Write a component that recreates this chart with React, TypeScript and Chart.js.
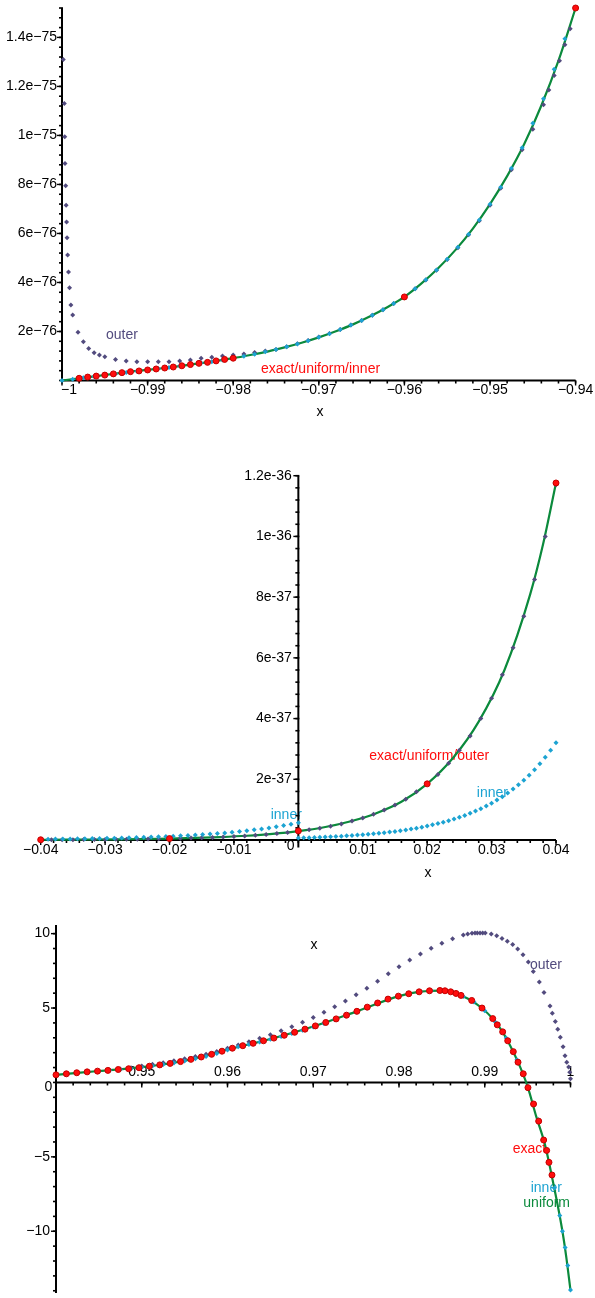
import React, { useEffect, useRef } from 'react';
import { Chart, registerables } from 'chart.js';

Chart.register(...registerables);

type Pt = [number, number];

const RED = '#ff0d0d';
const RED_EDGE = '#c40000';
const PURPLE = '#524b7e';
const CYAN = '#1ca3d2';
const GREEN = '#0b8a3c';
const FONT = '14px "Liberation Sans", Arial, Helvetica, sans-serif';

// ---------------- panel 1: left boundary layer, y in units of 1e-76 ----------------
const P1_X_TICKS = [-1, -0.99, -0.98, -0.97, -0.96, -0.95, -0.94];
const P1_X_LABELS = ['−1', '−0.99', '−0.98', '−0.97', '−0.96', '−0.95', '−0.94'];
const P1_Y_TICKS = [2, 4, 6, 8, 10, 12, 14];
const P1_Y_LABELS = ['2e−76', '4e−76', '6e−76', '8e−76', '1e−75', '1.2e−75', '1.4e−75'];

const P1_EXACT: Pt[] = [
  [-0.998, 0.09], [-0.997, 0.14], [-0.996, 0.18], [-0.995, 0.22], [-0.994, 0.27],
  [-0.993, 0.32], [-0.992, 0.36], [-0.991, 0.39], [-0.99, 0.43], [-0.989, 0.47],
  [-0.988, 0.51], [-0.987, 0.55], [-0.986, 0.6], [-0.985, 0.65], [-0.984, 0.7],
  [-0.983, 0.74], [-0.982, 0.8], [-0.981, 0.86], [-0.98, 0.91], [-0.96, 3.41], [-0.94, 15.2],
];

const P1_UNIFORM: Pt[] = [
  [-1, 0], [-0.998, 0.09], [-0.996, 0.18], [-0.994, 0.27], [-0.992, 0.36], [-0.99, 0.43],
  [-0.988, 0.51], [-0.986, 0.6], [-0.984, 0.7], [-0.982, 0.8], [-0.98, 0.91], [-0.978, 1.04],
  [-0.976, 1.18], [-0.974, 1.35], [-0.972, 1.54], [-0.97, 1.76], [-0.968, 2.01], [-0.966, 2.29],
  [-0.964, 2.62], [-0.962, 2.99], [-0.96, 3.41], [-0.958, 3.96], [-0.956, 4.6], [-0.954, 5.34],
  [-0.952, 6.2], [-0.95, 7.2], [-0.948, 8.34], [-0.946, 9.65], [-0.944, 11.22], [-0.942, 13.05],
  [-0.94, 15.2],
];

const P1_INNER: Pt[] = [
  [-1, 0], [-0.99875, 0.05], [-0.9975, 0.11], [-0.99625, 0.165], [-0.995, 0.22], [-0.99375, 0.28],
  [-0.9925, 0.33], [-0.99125, 0.38], [-0.99, 0.43], [-0.98875, 0.48], [-0.9875, 0.53],
  [-0.98625, 0.59], [-0.985, 0.65], [-0.98375, 0.71], [-0.9825, 0.77], [-0.98125, 0.84],
  [-0.98, 0.91], [-0.97875, 0.99], [-0.9775, 1.07], [-0.97625, 1.17], [-0.975, 1.27],
  [-0.97375, 1.375], [-0.9725, 1.49], [-0.97125, 1.62], [-0.97, 1.76], [-0.96875, 1.91],
  [-0.9675, 2.08], [-0.96625, 2.26], [-0.965, 2.45], [-0.96375, 2.66], [-0.9625, 2.89],
  [-0.96125, 3.14], [-0.96, 3.41], [-0.95875, 3.74], [-0.9575, 4.11], [-0.95625, 4.51],
  [-0.955, 4.95], [-0.95375, 5.44], [-0.9525, 5.97], [-0.95125, 6.55], [-0.95, 7.19],
  [-0.94875, 7.89], [-0.9475, 8.66], [-0.94625, 9.5], [-0.945, 10.5], [-0.94375, 11.5],
  [-0.9425, 12.7], [-0.94125, 13.95], [-0.94, 15.2],
];

const P1_OUTER: Pt[] = [
  [-0.99985, 13.1], [-0.99973, 11.3], [-0.99968, 9.95], [-0.99965, 8.85], [-0.99957, 7.95],
  [-0.99952, 7.15], [-0.99947, 6.47], [-0.99941, 5.82], [-0.99934, 5.12], [-0.99924, 4.43],
  [-0.99912, 3.78], [-0.99896, 3.08], [-0.99875, 2.67], [-0.99813, 1.97], [-0.9975, 1.58],
  [-0.99688, 1.31], [-0.99625, 1.13], [-0.99563, 1.04], [-0.995, 0.97], [-0.99375, 0.86],
  [-0.9925, 0.8], [-0.99125, 0.77], [-0.99, 0.77], [-0.98875, 0.77], [-0.9875, 0.77],
  [-0.98625, 0.8], [-0.985, 0.84], [-0.98375, 0.91], [-0.9825, 0.95], [-0.98125, 1.0],
  [-0.98, 1.04], [-0.97875, 1.08], [-0.9775, 1.14], [-0.97625, 1.2], [-0.975, 1.27],
  [-0.97375, 1.38], [-0.9725, 1.5], [-0.97125, 1.63], [-0.97, 1.77], [-0.96875, 1.92],
  [-0.9675, 2.08], [-0.96625, 2.26], [-0.965, 2.45], [-0.96375, 2.66], [-0.9625, 2.89],
  [-0.96125, 3.14], [-0.96, 3.41], [-0.95875, 3.74], [-0.9575, 4.1], [-0.95625, 4.5],
  [-0.955, 4.94], [-0.95375, 5.42], [-0.9525, 5.95], [-0.95125, 6.52], [-0.95, 7.15],
  [-0.94875, 7.84], [-0.9475, 8.6], [-0.94625, 9.42], [-0.945, 10.25], [-0.94375, 11.25],
  [-0.94313, 11.85], [-0.9425, 12.45], [-0.94188, 13.05], [-0.94125, 13.7], [-0.94063, 14.35],
];

// ---------------- panel 2: interior layer, y in units of 1e-37 ----------------
const P2_X_TICKS = [-0.04, -0.03, -0.02, -0.01, 0.01, 0.02, 0.03, 0.04];
const P2_X_LABELS = ['−0.04', '−0.03', '−0.02', '−0.01', '0.01', '0.02', '0.03', '0.04'];
const P2_Y_TICKS = [2, 4, 6, 8, 10, 12];
const P2_Y_LABELS = ['2e-37', '4e-37', '6e-37', '8e-37', '1e-36', '1.2e-36'];

const P2_EXACT: Pt[] = [[-0.04, 0.008], [-0.02, 0.047], [0, 0.3], [0.02, 1.85], [0.04, 11.76]];

const P2_UNIFORM: Pt[] = [
  [-0.04, 0.008], [-0.036, 0.011], [-0.032, 0.016], [-0.028, 0.023], [-0.024, 0.033],
  [-0.02, 0.047], [-0.016, 0.068], [-0.012, 0.098], [-0.008, 0.14], [-0.004, 0.202],
  [0, 0.292], [0.004, 0.42], [0.008, 0.61], [0.012, 0.875], [0.016, 1.26], [0.02, 1.85],
  [0.024, 2.7], [0.028, 3.9], [0.032, 5.6], [0.036, 8.1], [0.038, 9.75], [0.04, 11.76],
];

const P2_OUTER: Pt[] = [
  [-0.04, 0.008], [-0.03833, 0.009], [-0.03667, 0.01], [-0.035, 0.012], [-0.03333, 0.014],
  [-0.03167, 0.016], [-0.03, 0.019], [-0.02833, 0.022], [-0.02667, 0.025], [-0.025, 0.029],
  [-0.02333, 0.034], [-0.02167, 0.04], [-0.02, 0.047], [-0.01833, 0.054], [-0.01667, 0.063],
  [-0.015, 0.074], [-0.01333, 0.086], [-0.01167, 0.1], [-0.01, 0.117], [-0.00833, 0.136],
  [-0.00667, 0.158], [-0.005, 0.184], [-0.00333, 0.214], [-0.00167, 0.25], [0, 0.29],
  [0.00167, 0.335], [0.00333, 0.39], [0.005, 0.452], [0.00667, 0.527], [0.00833, 0.626],
  [0.01, 0.725], [0.01167, 0.847], [0.01333, 0.99], [0.015, 1.15], [0.01667, 1.34],
  [0.01833, 1.59], [0.02, 1.86], [0.02167, 2.16], [0.02333, 2.53], [0.025, 2.96],
  [0.02667, 3.43], [0.02833, 4.0], [0.03, 4.67], [0.03167, 5.44], [0.03333, 6.33],
  [0.035, 7.37], [0.03667, 8.58], [0.03833, 10.0], [0.04, 11.7],
];

const P2_INNER_LEFT: Pt[] = [
  [-0.04, 0.025], [-0.03886, 0.028], [-0.03771, 0.03], [-0.03657, 0.033], [-0.03543, 0.036],
  [-0.03429, 0.039], [-0.03314, 0.043], [-0.032, 0.047], [-0.03086, 0.051], [-0.02971, 0.056],
  [-0.02857, 0.061], [-0.02743, 0.067], [-0.02629, 0.073], [-0.02514, 0.08], [-0.024, 0.088],
  [-0.02286, 0.096], [-0.02171, 0.105], [-0.02057, 0.115], [-0.01943, 0.125], [-0.01829, 0.137],
  [-0.01714, 0.15], [-0.016, 0.164], [-0.01486, 0.179], [-0.01371, 0.196], [-0.01257, 0.214],
  [-0.01143, 0.234], [-0.01029, 0.255], [-0.00914, 0.279], [-0.008, 0.305], [-0.00686, 0.334],
  [-0.00571, 0.365], [-0.00457, 0.399], [-0.00343, 0.436], [-0.00229, 0.477], [-0.00114, 0.521],
  [0, 0.57],
];

const P2_INNER_RIGHT: Pt[] = [
  [0, 0.066], [0.00083, 0.072], [0.00167, 0.078], [0.0025, 0.084], [0.00333, 0.091],
  [0.00417, 0.099], [0.005, 0.107], [0.00583, 0.116], [0.00667, 0.126], [0.0075, 0.137],
  [0.00833, 0.148], [0.00917, 0.161], [0.01, 0.174], [0.01083, 0.189], [0.01167, 0.205],
  [0.0125, 0.222], [0.01333, 0.241], [0.01417, 0.261], [0.015, 0.283], [0.01583, 0.307],
  [0.01667, 0.333], [0.0175, 0.361], [0.01833, 0.391], [0.01917, 0.424], [0.02, 0.46],
  [0.02083, 0.499], [0.02167, 0.541], [0.0225, 0.586], [0.02333, 0.636], [0.02417, 0.689],
  [0.025, 0.747], [0.02583, 0.81], [0.02667, 0.878], [0.0275, 0.952], [0.02833, 1.032],
  [0.02917, 1.119], [0.03, 1.213], [0.03083, 1.316], [0.03167, 1.426], [0.0325, 1.547],
  [0.03333, 1.677], [0.03417, 1.818], [0.035, 1.971], [0.03583, 2.137], [0.03667, 2.317],
  [0.0375, 2.512], [0.03833, 2.723], [0.03917, 2.953], [0.04, 3.201],
];

// ---------------- panel 3: right boundary layer ----------------
const P3_X_TICKS = [0.95, 0.96, 0.97, 0.98, 0.99, 1];
const P3_X_LABELS = ['0.95', '0.96', '0.97', '0.98', '0.99', '1'];
const P3_Y_TICKS = [-10, -5, 5, 10];
const P3_Y_LABELS = ['−10', '−5', '5', '10'];

const P3_EXACT: Pt[] = [
  [0.94, 0.51], [0.94121, 0.58], [0.94242, 0.65], [0.94363, 0.71], [0.94484, 0.76],
  [0.94605, 0.81], [0.94726, 0.87], [0.94847, 0.92], [0.94968, 0.99], [0.95089, 1.09],
  [0.9521, 1.18], [0.95331, 1.28], [0.95452, 1.4], [0.95573, 1.55], [0.95694, 1.71],
  [0.95815, 1.89], [0.95936, 2.1], [0.96057, 2.3], [0.96178, 2.47], [0.96299, 2.63],
  [0.9642, 2.8], [0.96541, 2.98], [0.96662, 3.17], [0.96783, 3.37], [0.96904, 3.58],
  [0.97025, 3.8], [0.97146, 4.03], [0.97267, 4.27], [0.97388, 4.52], [0.97509, 4.78],
  [0.9763, 5.06], [0.97751, 5.34], [0.97872, 5.6], [0.97993, 5.8], [0.98114, 5.96],
  [0.98235, 6.09], [0.98356, 6.16], [0.98477, 6.18], [0.98536, 6.16], [0.98603, 6.09],
  [0.98665, 5.98], [0.98723, 5.85], [0.98848, 5.51], [0.98968, 5.0], [0.99093, 4.29],
  [0.99146, 3.87], [0.99209, 3.4], [0.99268, 2.8], [0.99333, 2.07], [0.99388, 1.36],
  [0.99449, 0.58], [0.99504, -0.35], [0.99569, -1.45], [0.99629, -2.6], [0.99687, -3.87],
  [0.99722, -4.57], [0.99749, -5.37], [0.99784, -6.22],
];

const P3_UNIFORM: Pt[] = [
  [0.94, 0.51], [0.945, 0.77], [0.95, 1.03], [0.955, 1.46], [0.96, 2.21], [0.965, 2.92],
  [0.97, 3.76], [0.975, 4.76], [0.98, 5.8], [0.9825, 6.1], [0.985, 6.175], [0.9865, 6.01],
  [0.988, 5.64], [0.9895, 5.07], [0.991, 4.25], [0.992, 3.47], [0.993, 2.44], [0.994, 1.21],
  [0.995, -0.28], [0.996, -2.28], [0.997, -4.13], [0.998, -6.8], [0.999, -9.8],
  [0.9995, -11.7], [1, -13.97],
];

const P3_INNER: Pt[] = [
  [0.94, 0.5], [0.94125, 0.58], [0.9425, 0.65], [0.94375, 0.71], [0.945, 0.76], [0.94625, 0.81],
  [0.9475, 0.87], [0.94875, 0.92], [0.95, 1.0], [0.95125, 1.11], [0.9525, 1.2], [0.95375, 1.3],
  [0.955, 1.44], [0.95625, 1.59], [0.9575, 1.75], [0.95875, 1.94], [0.96, 2.18], [0.96125, 2.4],
  [0.9625, 2.55], [0.96375, 2.72], [0.965, 2.9], [0.96625, 3.08], [0.9675, 3.29], [0.96875, 3.5],
  [0.97, 3.73], [0.97125, 3.96], [0.9725, 4.21], [0.97375, 4.46], [0.975, 4.72], [0.97625, 5.01],
  [0.9775, 5.3], [0.97875, 5.6], [0.98, 5.8], [0.98125, 5.96], [0.9825, 6.09], [0.98375, 6.16],
  [0.985, 6.18], [0.98625, 6.07], [0.9875, 5.78], [0.98875, 5.4], [0.99, 4.82], [0.99125, 4.05],
  [0.9925, 2.98], [0.99375, 1.53], [0.995, -0.27], [0.99625, -2.51], [0.99686, -3.85],
  [0.9975, -5.37], [0.99812, -7.1], [0.99875, -8.95], [0.99906, -10.0], [0.99937, -11.1],
  [0.99968, -12.3], [1, -13.95],
];

const P3_OUTER: Pt[] = [
  [0.94, 0.5], [0.94125, 0.56], [0.9425, 0.62], [0.94375, 0.69], [0.945, 0.76], [0.94625, 0.83],
  [0.9475, 0.9], [0.94875, 0.98], [0.95, 1.1], [0.95125, 1.22], [0.9525, 1.33], [0.95375, 1.45],
  [0.955, 1.59], [0.95625, 1.74], [0.9575, 1.9], [0.95875, 2.08], [0.96, 2.3], [0.96125, 2.52],
  [0.9625, 2.74], [0.96375, 2.97], [0.965, 3.21], [0.96625, 3.47], [0.9675, 3.75], [0.96875, 4.05],
  [0.97, 4.37], [0.97125, 4.71], [0.9725, 5.08], [0.97375, 5.47], [0.975, 5.89], [0.97625, 6.33],
  [0.9775, 6.8], [0.97875, 7.3], [0.98, 7.78], [0.98125, 8.22], [0.9825, 8.63], [0.98375, 9.01],
  [0.985, 9.35], [0.98625, 9.65], [0.9875, 9.9], [0.98801, 9.98], [0.98851, 10.03],
  [0.98886, 10.05], [0.98913, 10.05], [0.98945, 10.05], [0.98976, 10.05], [0.99006, 10.04],
  [0.99076, 9.98], [0.99139, 9.85], [0.99201, 9.67], [0.99263, 9.49], [0.99326, 9.27],
  [0.99384, 8.96], [0.99446, 8.58], [0.99508, 8.09], [0.99566, 7.45], [0.99636, 6.75],
  [0.99691, 6.05], [0.99761, 5.13], [0.99788, 4.65], [0.99823, 4.09], [0.99851, 3.58],
  [0.99881, 3.03], [0.99913, 2.4], [0.99936, 1.8], [0.99956, 1.36], [0.99979, 1.03],
  [0.99991, 0.69], [1, 0.25],
];

// ---------------- drawing helpers ----------------
interface AxisDef {
  at: number;
  from: number;
  to: number;
  ticks: number[];
  labels: string[];
  minorStep: number;
  labelGap: number;
  labelShift?: number[];
}
interface TextDef {
  text: string;
  x: number;
  y: number;
  color: string;
  align?: CanvasTextAlign;
}
interface PanelDef {
  top: number;
  height: number;
  padding: { left: number; right: number; top: number; bottom: number };
  xRange: [number, number];
  yRange: [number, number];
  xAxis: AxisDef;
  yAxis: AxisDef;
  texts: TextDef[];
  datasets: any[];
}

function minorValues(a: AxisDef): number[] {
  const out: number[] = [];
  const start = Math.ceil(a.from / a.minorStep - 1e-9);
  const end = Math.floor(a.to / a.minorStep + 1e-9);
  for (let i = start; i <= end; i++) out.push(i * a.minorStep);
  return out;
}

function seg(ctx: CanvasRenderingContext2D, x1: number, y1: number, x2: number, y2: number) {
  ctx.beginPath();
  ctx.moveTo(x1, y1);
  ctx.lineTo(x2, y2);
  ctx.stroke();
}

function axesPlugin(def: PanelDef) {
  return {
    id: 'panelAxes',
    beforeDatasetsDraw(chart: Chart) {
      const ctx = chart.ctx;
      const xs = chart.scales.x;
      const ys = chart.scales.y;
      ctx.save();
      ctx.font = FONT;
      ctx.textBaseline = 'middle';
      for (const t of def.texts) {
        ctx.fillStyle = t.color;
        ctx.textAlign = t.align ?? 'left';
        ctx.fillText(t.text, xs.getPixelForValue(t.x), ys.getPixelForValue(t.y));
      }
      ctx.strokeStyle = '#000';
      ctx.fillStyle = '#000';

      // horizontal axis
      const ax = def.xAxis;
      const yl = ys.getPixelForValue(ax.at);
      ctx.lineWidth = 2;
      seg(ctx, xs.getPixelForValue(ax.from), yl, xs.getPixelForValue(ax.to), yl);
      ctx.lineWidth = 1.6;
      for (const v of minorValues(ax)) {
        const p = xs.getPixelForValue(v);
        seg(ctx, p, yl, p, yl + 3);
      }
      ctx.lineWidth = 1.4;
      for (const v of ax.ticks) {
        const p = xs.getPixelForValue(v);
        seg(ctx, p, yl, p, yl + 5);
      }
      ctx.textAlign = 'center';
      ax.ticks.forEach((v, i) =>
        ctx.fillText(ax.labels[i], xs.getPixelForValue(v) + (ax.labelShift?.[i] ?? 0), yl + ax.labelGap),
      );

      // vertical axis
      const ay = def.yAxis;
      const xl = xs.getPixelForValue(ay.at);
      ctx.lineWidth = 2;
      seg(ctx, xl, ys.getPixelForValue(ay.from), xl, ys.getPixelForValue(ay.to));
      ctx.lineWidth = 1.6;
      for (const v of minorValues(ay)) {
        const p = ys.getPixelForValue(v);
        seg(ctx, xl - 3, p, xl + 1, p);
      }
      ctx.lineWidth = 1.4;
      for (const v of ay.ticks) {
        const p = ys.getPixelForValue(v);
        seg(ctx, xl - 5, p, xl, p);
      }
      ctx.textAlign = 'right';
      ay.ticks.forEach((v, i) => ctx.fillText(ay.labels[i], xl - ay.labelGap, ys.getPixelForValue(v)));
      ctx.restore();
    },
  };
}

const toXY = (d: Pt[]) => d.map(([x, y]) => ({ x, y }));

function markers(d: Pt[], color: string, style: 'circle' | 'rectRot', radius: number, edge?: string) {
  return {
    data: toXY(d),
    showLine: false,
    pointStyle: style,
    pointRadius: radius,
    pointBackgroundColor: color,
    pointBorderColor: edge ?? color,
    pointBorderWidth: edge ? 1 : 0,
    clip: false,
  };
}

function curve(d: Pt[], color: string) {
  return {
    data: toXY(d),
    showLine: true,
    borderColor: color,
    borderWidth: 2.2,
    pointRadius: 0,
    cubicInterpolationMode: 'monotone',
    clip: 4,
  };
}

// dataset order: first entry is drawn on top
const PANELS: PanelDef[] = [
  {
    top: 0,
    height: 430,
    padding: { left: 62, right: 19.4, top: 8, bottom: 49.5 },
    xRange: [-1, -0.94],
    yRange: [0, 15.2],
    xAxis: {
      at: 0, from: -1, to: -0.94, ticks: P1_X_TICKS, labels: P1_X_LABELS, minorStep: 0.002, labelGap: 10,
      labelShift: [7, 0, 0, 0, 0, 0, 0],
    },
    yAxis: { at: -1, from: 0, to: 15.2, ticks: P1_Y_TICKS, labels: P1_Y_LABELS, minorStep: 0.4, labelGap: 5 },
    texts: [
      { text: 'outer', x: -0.99486, y: 1.86, color: PURPLE },
      { text: 'exact/uniform/inner', x: -0.97675, y: 0.45, color: RED },
      { text: 'x', x: -0.96986, y: -1.29, color: '#000', align: 'center' },
    ],
    datasets: [
      markers(P1_EXACT, RED, 'circle', 3, RED_EDGE),
      markers(P1_INNER, CYAN, 'rectRot', 2.5),
      markers(P1_OUTER, PURPLE, 'rectRot', 2.5),
      curve(P1_UNIFORM, GREEN),
    ],
  },
  {
    top: 430,
    height: 460,
    padding: { left: 40.7, right: 39, top: 45.7, bottom: 42.4 },
    xRange: [-0.04, 0.04],
    yRange: [-0.25, 12],
    xAxis: { at: 0, from: -0.04, to: 0.04, ticks: P2_X_TICKS, labels: P2_X_LABELS, minorStep: 0.002, labelGap: 10 },
    yAxis: { at: 0, from: -0.25, to: 12, ticks: P2_Y_TICKS, labels: P2_Y_LABELS, minorStep: 0.4, labelGap: 6.5 },
    texts: [
      { text: 'exact/uniform/outer', x: 0.01102, y: 2.77, color: RED },
      { text: 'inner', x: 0.0277, y: 1.55, color: CYAN },
      { text: 'inner', x: -0.00429, y: 0.82, color: CYAN },
      { text: '0', x: -0.00121, y: -0.21, color: '#000', align: 'center' },
      { text: 'x', x: 0.02014, y: -1.08, color: '#000', align: 'center' },
    ],
    datasets: [
      markers(P2_EXACT, RED, 'circle', 3, RED_EDGE),
      markers(P2_INNER_LEFT, CYAN, 'rectRot', 2.5),
      markers(P2_INNER_RIGHT, CYAN, 'rectRot', 2.5),
      markers(P2_OUTER, PURPLE, 'rectRot', 2.5),
      curve(P2_UNIFORM, GREEN),
    ],
  },
  {
    top: 890,
    height: 408,
    padding: { left: 56, right: 24.5, top: 35, bottom: 2 },
    xRange: [0.94, 1],
    yRange: [-14.15, 10.58],
    xAxis: { at: 0, from: 0.94, to: 1.0, ticks: P3_X_TICKS, labels: P3_X_LABELS, minorStep: 0.002, labelGap: -10.7 },
    yAxis: { at: 0.94, from: -14.15, to: 10.58, ticks: P3_Y_TICKS, labels: P3_Y_LABELS, minorStep: 1, labelGap: 6 },
    texts: [
      { text: 'outer', x: 0.99528, y: 7.85, color: PURPLE },
      { text: 'exact', x: 0.99326, y: -4.45, color: RED },
      { text: 'inner', x: 0.99536, y: -7.09, color: CYAN },
      { text: 'uniform', x: 0.9945, y: -8.13, color: GREEN },
      { text: '0', x: 0.9391, y: -0.29, color: '#000', align: 'center' },
      { text: 'x', x: 0.97009, y: 9.25, color: '#000', align: 'center' },
    ],
    datasets: [
      markers(P3_EXACT, RED, 'circle', 3, RED_EDGE),
      markers(P3_INNER, CYAN, 'rectRot', 2.5),
      markers(P3_OUTER, PURPLE, 'rectRot', 2.5),
      curve(P3_UNIFORM, GREEN),
    ],
  },
];

function Panel({ def }: { def: PanelDef }) {
  const ref = useRef<HTMLCanvasElement | null>(null);
  useEffect(() => {
    if (!ref.current) return;
    const chart = new Chart(ref.current, {
      type: 'scatter',
      data: { datasets: def.datasets as any },
      options: {
        animation: false,
        responsive: false,
        maintainAspectRatio: false,
        events: [],
        layout: { padding: def.padding },
        plugins: { legend: { display: false }, tooltip: { enabled: false } },
        scales: {
          x: { type: 'linear', min: def.xRange[0], max: def.xRange[1], display: false },
          y: { type: 'linear', min: def.yRange[0], max: def.yRange[1], display: false },
        },
      },
      plugins: [axesPlugin(def) as any],
    });
    return () => chart.destroy();
  }, [def]);
  return (
    <canvas
      ref={ref}
      width={595}
      height={def.height}
      style={{ position: 'absolute', left: 0, top: def.top, width: 595, height: def.height }}
    />
  );
}

export default function App() {
  return (
    <div style={{ position: 'absolute', left: 0, top: 0, width: 595, height: 1298, background: '#fff', overflow: 'hidden' }}>
      {PANELS.map((p, i) => (
        <Panel key={i} def={p} />
      ))}
    </div>
  );
}
